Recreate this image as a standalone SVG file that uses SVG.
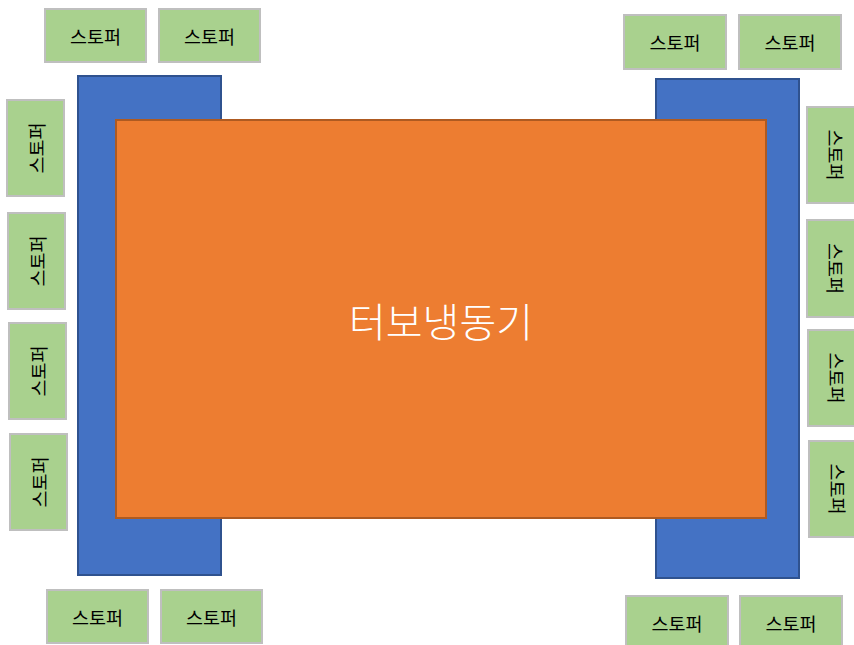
<svg xmlns="http://www.w3.org/2000/svg" width="854" height="645" viewBox="0 0 854 645">
<style>
.st{fill:#A9D18E;stroke:#BFBFBF;stroke-width:2}
.stt{font-family:"Noto Sans CJK KR","Liberation Sans",sans-serif;font-size:18.5px;fill:#000;text-anchor:middle;dominant-baseline:central}
.bl{fill:#4472C4;stroke:#2F528F;stroke-width:2}
.or{fill:#ED7D31;stroke:#AE5A21;stroke-width:2}
.main{font-family:"Noto Sans CJK KR","Liberation Sans",sans-serif;font-size:40px;font-weight:300;fill:#fff;text-anchor:middle;dominant-baseline:central}
</style>
<rect width="854" height="645" fill="#fff"/>
<g id="frame-left"><rect class="bl" x="78" y="76" width="143" height="499"/></g>
<g id="frame-right"><rect class="bl" x="656" y="79" width="143" height="499"/></g>
<g id="turbo"><rect class="or" x="116" y="120" width="650" height="398"/><text class="main" x="441" y="320">터보냉동기</text></g>
<g id="s-tl1"><rect class="st" x="45" y="9" width="101" height="53"/><text class="stt" x="95.5" y="35.5">스토퍼</text></g>
<g id="s-tl2"><rect class="st" x="159" y="9" width="101" height="53"/><text class="stt" x="209.5" y="35.5">스토퍼</text></g>
<g id="s-tr1"><rect class="st" x="624" y="15" width="102" height="54"/><text class="stt" x="675" y="42">스토퍼</text></g>
<g id="s-tr2"><rect class="st" x="739" y="15" width="102" height="54"/><text class="stt" x="790" y="42">스토퍼</text></g>
<g id="s-bl1"><rect class="st" x="47" y="590" width="101" height="53"/><text class="stt" x="97.5" y="616.5">스토퍼</text></g>
<g id="s-bl2"><rect class="st" x="161" y="590" width="101" height="53"/><text class="stt" x="211.5" y="616.5">스토퍼</text></g>
<g id="s-br1"><rect class="st" x="626" y="596" width="102" height="54"/><text class="stt" x="677" y="623">스토퍼</text></g>
<g id="s-br2"><rect class="st" x="740" y="596" width="102" height="54"/><text class="stt" x="791" y="623">스토퍼</text></g>
<g id="s-l1"><rect class="st" x="7" y="100" width="57" height="96"/><text class="stt" transform="translate(35.5 148) rotate(-90)">스토퍼</text></g>
<g id="s-l2"><rect class="st" x="8" y="213" width="57" height="96"/><text class="stt" transform="translate(36.5 261) rotate(-90)">스토퍼</text></g>
<g id="s-l3"><rect class="st" x="9" y="323" width="57" height="96"/><text class="stt" transform="translate(37.5 371) rotate(-90)">스토퍼</text></g>
<g id="s-l4"><rect class="st" x="10" y="434" width="57" height="96"/><text class="stt" transform="translate(38.5 482) rotate(-90)">스토퍼</text></g>
<g id="s-r1"><rect class="st" x="807" y="107" width="57" height="96"/><text class="stt" transform="translate(835.5 155) rotate(90)">스토퍼</text></g>
<g id="s-r2"><rect class="st" x="807" y="220" width="57" height="97"/><text class="stt" transform="translate(835.5 268.5) rotate(90)">스토퍼</text></g>
<g id="s-r3"><rect class="st" x="808" y="330" width="57" height="96"/><text class="stt" transform="translate(836.5 378) rotate(90)">스토퍼</text></g>
<g id="s-r4"><rect class="st" x="809" y="441" width="57" height="96"/><text class="stt" transform="translate(837.5 489) rotate(90)">스토퍼</text></g>
</svg>
